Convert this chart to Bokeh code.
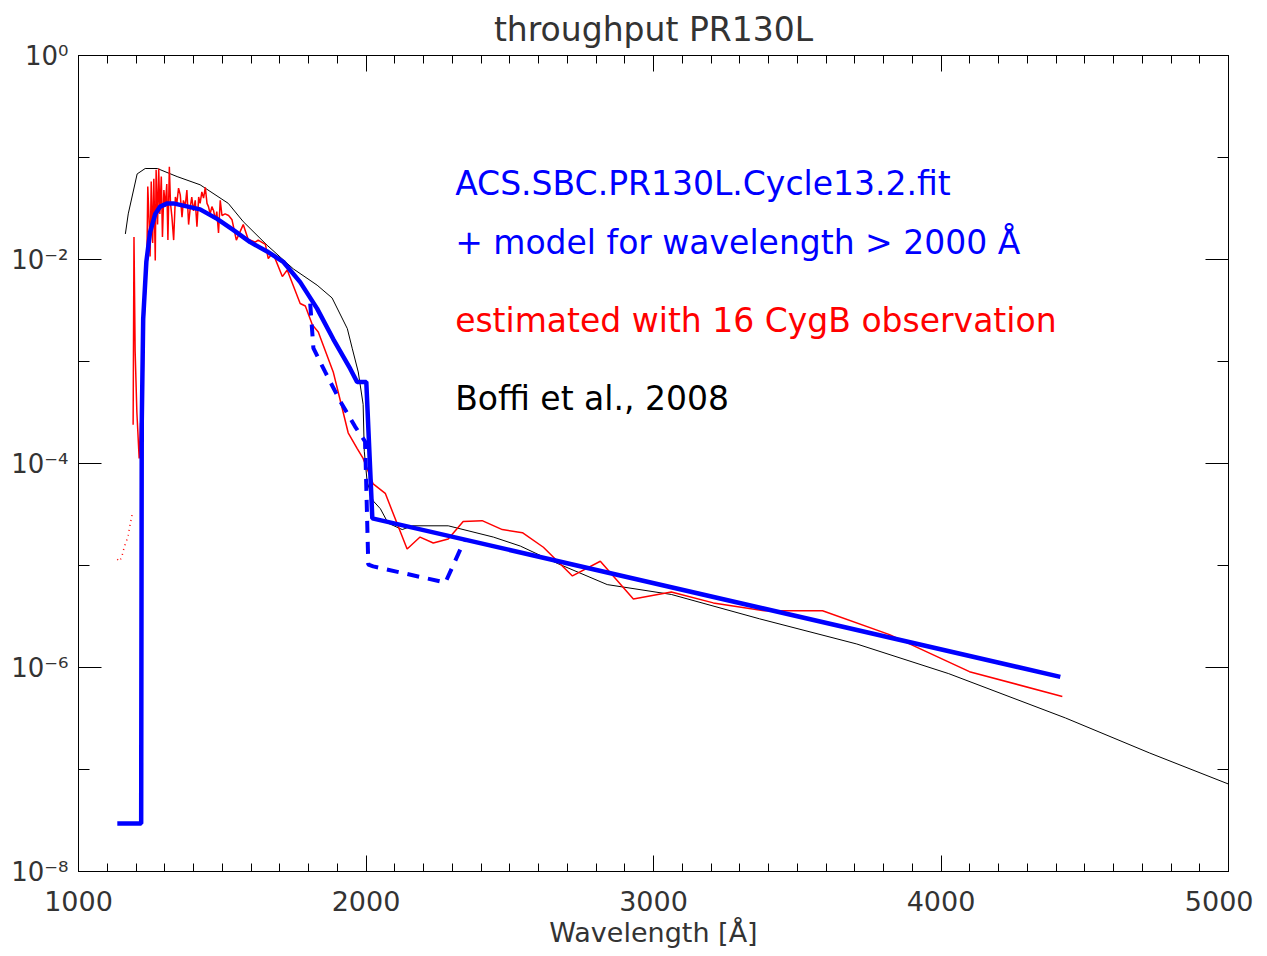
from bokeh.plotting import figure
from bokeh.models import FixedTicker, LinearAxis, LogAxis, Label
from bokeh.embed import file_html
from bokeh.resources import INLINE

# ---- data ----
# ACS.SBC.PR130L.Cycle13.2.fit + model (solid thick blue)
model_wl = [1135, 1218, 1220, 1225, 1236, 1249, 1267, 1284, 1309, 1330, 1423, 1482, 1538,
            1597, 1656, 1712, 1771, 1830, 1886, 1945, 1969, 2001, 2022, 4415]
model_tp = [2.95e-8, 2.95e-8, 2.5e-4, 2.6e-3, 9.5e-3, 1.86e-2, 2.8e-2, 3.3e-2, 3.55e-2, 3.55e-2,
            3.1e-2, 2.5e-2, 1.95e-2, 1.48e-2, 1.2e-2, 9.5e-3, 6.0e-3, 3.3e-3, 1.66e-3, 8.5e-4,
            6.3e-4, 6.3e-4, 2.9e-5, 8.1e-7]

# dashed blue curve
dash_wl = [1806, 1817, 1858, 1910, 1962, 1997, 2008, 2025, 2276, 2343]
dash_tp = [3.7e-3, 1.35e-3, 7.9e-4, 4.1e-4, 2.3e-4, 1.64e-4, 1.02e-5, 9.8e-6, 6.8e-6, 1.78e-5]

# estimated with 16 CygB observation (red)
cyg_dot_wl = [1135, 1142, 1150, 1160, 1172, 1178, 1187]
cyg_dot_tp = [1.15e-5, 1.1e-5, 1.2e-5, 1.55e-5, 1.9e-5, 2.4e-5, 3.2e-5]
cyg_wl = [1190, 1193, 1197, 1203, 1211, 1216, 1222, 1228, 1234, 1238, 1241, 1246, 1249, 1253,
          1258, 1262, 1267, 1270, 1275, 1279, 1283, 1288, 1292, 1297, 1302, 1307, 1311, 1316,
          1320, 1325, 1331, 1337, 1342, 1348, 1354, 1360, 1365, 1371, 1377, 1383, 1389, 1394,
          1400, 1406, 1412, 1418, 1423, 1429, 1435, 1441, 1447, 1452, 1458, 1464, 1470, 1476,
          1481, 1487, 1493, 1499, 1510, 1522, 1534, 1549, 1573, 1590, 1615, 1625, 1650, 1660,
          1674, 1684, 1709, 1726, 1771, 1789, 1813, 1834, 1886, 1911, 1938, 1969, 1990, 2025,
          2067, 2143, 2188, 2234, 2286, 2338, 2404, 2474, 2544, 2617, 2718, 2815, 2930, 3062,
          3208, 3386, 3588, 3821, 4099, 4422]
cyg_tp = [2.4e-4, 1.66e-2, 1.26e-3, 3.2e-4, 1.12e-4, 2.5e-4, 1.78e-4, 2.5e-3, 5.6e-3, 1.07e-2,
          5.2e-2, 2.2e-2, 1.07e-2, 5.8e-2, 1.45e-2, 6.2e-2, 9.8e-3, 7.6e-2, 2.2e-2, 7.8e-2,
          2.8e-2, 6.5e-2, 1.66e-2, 4.8e-2, 3.3e-2, 5.5e-2, 1.55e-2, 8.1e-2, 3.55e-2, 2.6e-2,
          1.55e-2, 4.1e-2, 3.55e-2, 5.0e-2, 4.3e-2, 2.6e-2, 3.8e-2, 3.3e-2, 4.8e-2, 2.2e-2,
          3.3e-2, 4.1e-2, 3.0e-2, 3.8e-2, 2.1e-2, 4.1e-2, 3.55e-2, 4.6e-2, 4.0e-2, 5.1e-2,
          3.55e-2, 3.3e-2, 2.8e-2, 3.3e-2, 3.0e-2, 2.45e-2, 2.95e-2, 1.82e-2, 3.8e-2, 2.7e-2,
          2.8e-2, 2.7e-2, 2.45e-2, 1.55e-2, 2.2e-2, 1.58e-2, 1.48e-2, 1.55e-2, 1.41e-2, 1.02e-2,
          1.15e-2, 1.02e-2, 6.8e-3, 7.9e-3, 3.7e-3, 3.5e-3, 2.3e-3, 1.95e-3, 7.9e-4, 4.1e-4,
          2.0e-4, 1.41e-4, 1.12e-4, 6.3e-5, 5.1e-5, 1.45e-5, 1.9e-5, 1.66e-5, 1.82e-5, 2.7e-5,
          2.75e-5, 2.25e-5, 2.1e-5, 1.51e-5, 7.9e-6, 1.1e-5, 4.7e-6, 5.5e-6, 4.3e-6, 3.6e-6,
          3.6e-6, 2.1e-6, 9.1e-7, 5.2e-7]

# Boffi et al., 2008 (thin black)
boffi_wl = [1163, 1173, 1204, 1232, 1274, 1343, 1423, 1521, 1573, 1656, 1747, 1830, 1882, 1935,
            1952, 1973, 1990, 1994, 2004, 2025, 2050, 2077, 2126, 2161, 2286, 2443, 2537, 2665,
            2839, 3062, 3369, 3707, 4027, 4433, 4726, 5000]
boffi_tp = [1.78e-2, 2.8e-2, 6.9e-2, 7.8e-2, 7.8e-2, 6.5e-2, 5.4e-2, 3.55e-2, 2.35e-2, 1.38e-2,
            8.1e-3, 5.6e-3, 4.2e-3, 2.1e-3, 1.35e-3, 7.9e-4, 3.8e-4, 1.32e-4, 6.6e-5, 4.3e-5,
            3.6e-5, 2.6e-5, 2.25e-5, 2.45e-5, 2.45e-5, 1.9e-5, 1.55e-5, 1.05e-5, 6.5e-6, 5.2e-6,
            3.0e-6, 1.7e-6, 8.7e-7, 3.2e-7, 1.45e-7, 7.2e-8]

x_major = [1000, 2000, 3000, 4000, 5000]
x_minor = list(range(1000, 5001, 100))
y_major = [1e-8, 1e-6, 1e-4, 1e-2, 1.0]
y_minor = [1e-7, 1e-5, 1e-3, 1e-1]
y_labels = {1e-8: "10\u207b\u2078", 1e-6: "10\u207b\u2076", 1e-4: "10\u207b\u2074",
            1e-2: "10\u207b\u00b2", 1.0: "10\u2070"}

legend_texts = ["ACS.SBC.PR130L.Cycle13.2.fit",
                "+ model for wavelength > 2000 \u00c5",
                "estimated with 16 CygB observation",
                "Boffi et al., 2008"]
legend_colors = ["#0000ff", "#0000ff", "#ff0000", "#000000"]

FONT = "DejaVu Sans"
GREY = "#333333"

p = figure(frame_width=1150, frame_height=816, x_range=(1000, 5000), y_range=(1e-8, 1.0),
           y_axis_type="log", output_backend="svg", toolbar_location=None,
           min_border_left=78, min_border_right=25, min_border_top=54, min_border_bottom=10,
           title="throughput PR130L")
p.title.align = "center"
p.title.text_font = FONT
p.title.text_font_size = "33px"
p.title.text_font_style = "normal"
p.title.text_color = GREY
p.title.standoff = 14
p.grid.visible = False
p.outline_line_color = "black"
p.background_fill_color = "white"
p.border_fill_color = "white"

xt = FixedTicker(ticks=x_major, minor_ticks=x_minor)
yt = FixedTicker(ticks=y_major, minor_ticks=y_minor)

xa = p.xaxis[0]
xa.ticker = xt
xa.axis_label = "Wavelength [\u00c5]"
xa.axis_label_text_font = FONT
xa.axis_label_text_font_size = "27px"
xa.axis_label_text_font_style = "normal"
xa.axis_label_text_color = GREY
xa.axis_label_standoff = 3
xa.major_label_text_font = FONT
xa.major_label_text_font_size = "27px"
xa.major_label_text_color = GREY
xa.major_label_standoff = 19
xa.major_tick_in = 16
xa.major_tick_out = 0
xa.minor_tick_in = 8
xa.minor_tick_out = 0

ya = p.yaxis[0]
ya.ticker = yt
ya.major_label_overrides = y_labels
ya.major_label_text_font = FONT
ya.major_label_text_font_size = "26px"
ya.major_label_text_color = GREY
ya.major_label_standoff = 10
ya.major_tick_in = 23
ya.major_tick_out = 0
ya.minor_tick_in = 11
ya.minor_tick_out = 0

for ax in (xa, ya):
    ax.axis_line_color = "black"
    ax.major_tick_line_color = "black"
    ax.minor_tick_line_color = "black"

top = LinearAxis(ticker=xt, major_label_text_font_size="0px", major_label_standoff=0,
                 major_tick_in=16, major_tick_out=0, minor_tick_in=8, minor_tick_out=0,
                 axis_line_color="black")
top.major_label_overrides = {v: "" for v in x_major}
p.add_layout(top, "above")
right = LogAxis(ticker=yt, major_label_text_font_size="0px", major_label_standoff=0,
                major_tick_in=23, major_tick_out=0, minor_tick_in=11, minor_tick_out=0,
                axis_line_color="black")
right.major_label_overrides = {v: "" for v in y_major}
p.add_layout(right, "right")

p.line(boffi_wl, boffi_tp, line_color="black", line_width=1)
p.line(cyg_dot_wl, cyg_dot_tp, line_color="#ff0000", line_width=1.5, line_dash="1 4")
p.line(cyg_wl, cyg_tp, line_color="#ff0000", line_width=1.5)
p.line(dash_wl, dash_tp, line_color="#0000ff", line_width=4, line_dash="12 9")
p.line(model_wl, model_tp, line_color="#0000ff", line_width=4.5)

legend_y = [0.0551, 0.01457, 2.51e-3, 4.31e-4]
for txt, col, yy in zip(legend_texts, legend_colors, legend_y):
    p.add_layout(Label(x=2310, y=yy, text=txt, text_color=col, text_font=FONT,
                       text_font_size="33px", text_baseline="alphabetic", text_align="left"))

open("out.html", "w").write(file_html(p, INLINE))
